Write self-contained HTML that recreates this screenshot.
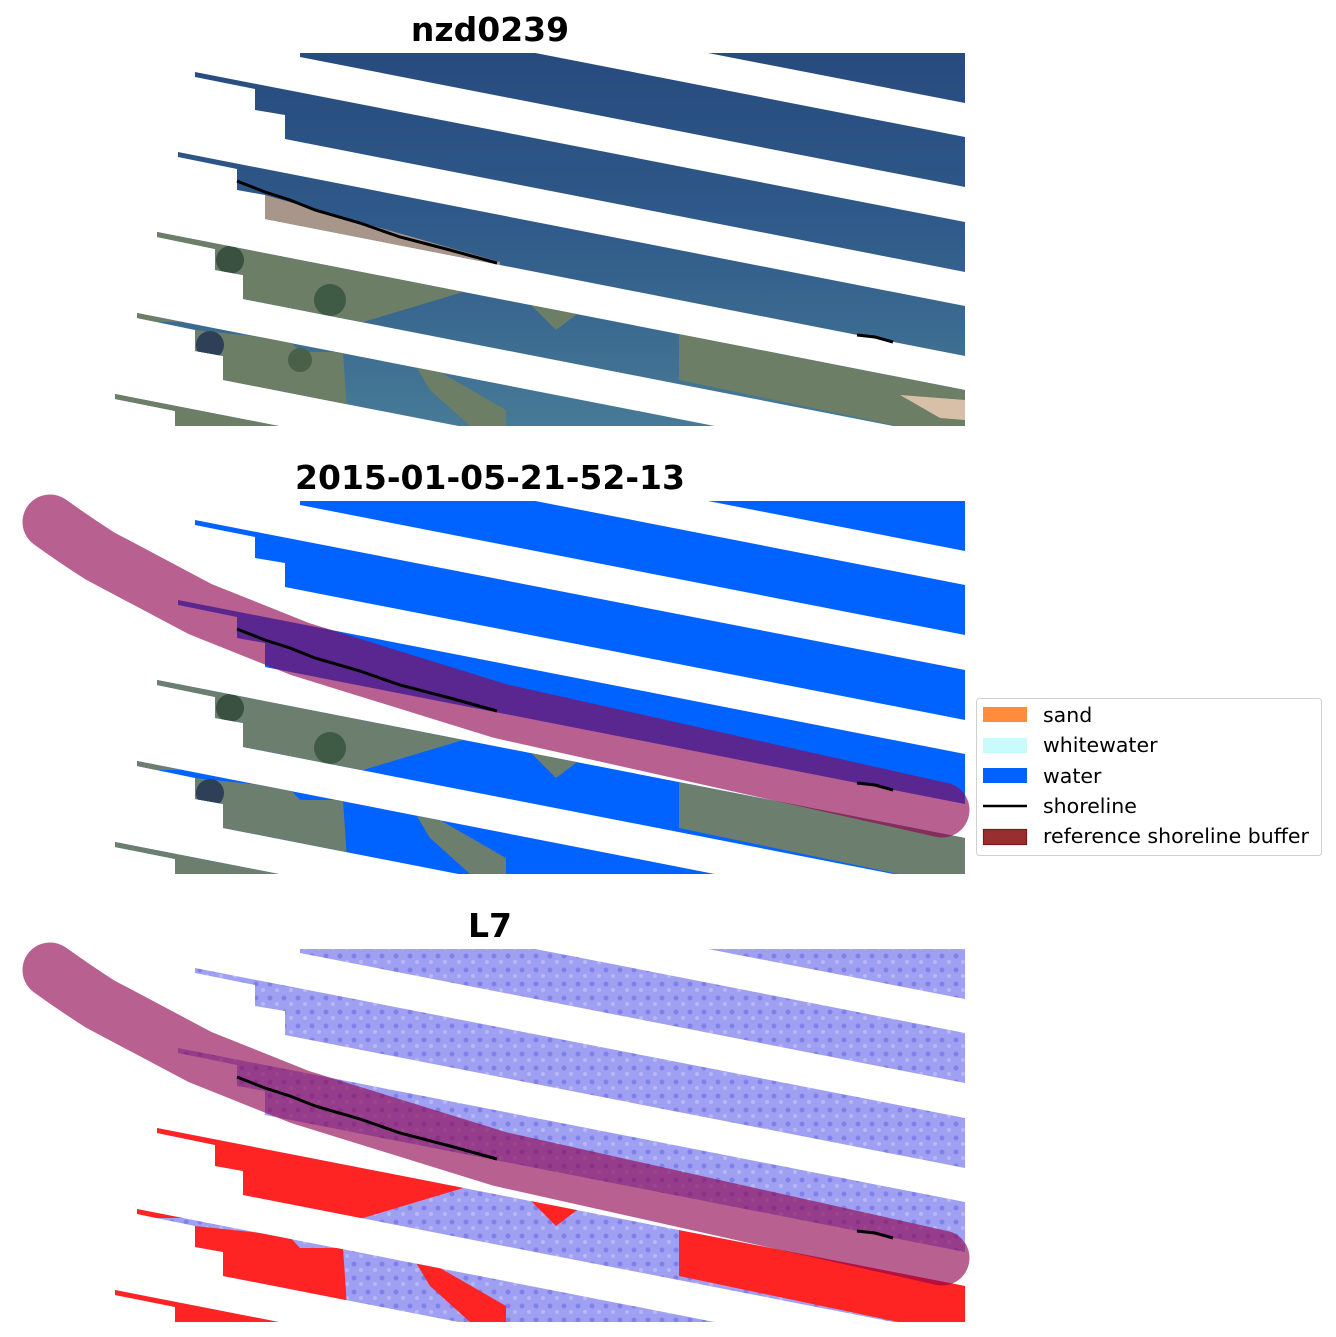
<!DOCTYPE html>
<html><head><meta charset="utf-8"><style>
html,body{margin:0;padding:0;background:#fff;}
svg{display:block;}
text{font-family:"DejaVu Sans","Liberation Sans",sans-serif;}
</style></head><body>
<svg width="1336" height="1337" viewBox="0 0 1336 1337" xmlns="http://www.w3.org/2000/svg">
<defs>
  <clipPath id="bands">
    <polygon points="600,-18 965,53 965,103 600,32"/>
    <polygon points="300,7 965,137 965,187 300,57"/>
    <polygon points="195,72 965,222 965,272 285,139 285,115 255,110 255,89 195,77"/>
    <polygon points="178,152 965,306 965,356 265,219 265,195 237,190 237,169 178,157"/>
    <polygon points="157,232 965,390 965,440 243,299 243,275 215,270 215,249 157,237"/>
    <polygon points="137,313 965,475 965,525 223,380 223,356 195,351 195,330 137,318"/>
    <polygon points="115,394 965,560 965,610 203,461 203,437 175,432 175,411 115,399"/>
  </clipPath>
  <clipPath id="panel"><rect x="100" y="53" width="865" height="373"/></clipPath>
  <linearGradient id="sea" x1="0" y1="0" x2="0" y2="1">
    <stop offset="0" stop-color="#25467a"/>
    <stop offset="0.5" stop-color="#2f5a8a"/>
    <stop offset="1" stop-color="#4a7e98"/>
  </linearGradient>
  <pattern id="tex" width="14" height="14" patternUnits="userSpaceOnUse">
    <rect width="14" height="14" fill="#a0a0f2"/>
    <circle cx="4" cy="4" r="2.5" fill="#8080ea"/>
    <circle cx="11" cy="10" r="2" fill="#b8b8f8"/>
  </pattern>
  <g id="landshapes">
    <polygon points="100,200 430,262 476,275 470,290 363,322 100,322"/>
    <polygon points="100,320 289,340 300,352 343,352 348,426 100,426"/>
    <polygon points="412,360 440,372 506,410 506,426 470,426 430,390"/>
    <polygon points="526,300 580,312 556,330"/>
    <polygon points="679,330 965,374 965,440 679,380"/>
  </g>
  <g id="shore" fill="none" stroke="#000" stroke-width="3">
    <polyline points="237,181 265,192 290,200 315,210 360,223 400,237 450,250 497,263"/>
    <polyline points="857,335 875,337 893,342"/>
  </g>
  <path id="buf" d="M50,74 Q75,92 100,108 L200,161 L300,201 L500,263 L942,362" fill="none" stroke="rgb(143,3,78)" stroke-opacity="0.63" stroke-width="55" stroke-linecap="round" stroke-linejoin="round"/>
</defs>

<!-- Panel 1 -->
<text x="490" y="41" font-size="33" font-weight="bold" text-anchor="middle">nzd0239</text>
<g clip-path="url(#panel)">
  <g clip-path="url(#bands)">
    <rect x="100" y="0" width="900" height="450" fill="url(#sea)"/>
    <polygon points="265,195 500,262 500,275 265,225" fill="#a8968a"/>
    <use href="#landshapes" fill="#6c7e66"/>
    <circle cx="230" cy="260" r="14" fill="#3a5040"/>
    <circle cx="330" cy="300" r="16" fill="#3f5a45"/>
    <circle cx="210" cy="345" r="14" fill="#2e4058"/>
    <circle cx="300" cy="360" r="12" fill="#4a6048"/>
    <polygon points="900,395 965,400 965,420 940,418" fill="#d8c0a8"/>
  </g>
</g>
<use href="#shore"/>

<!-- Panel 2 -->
<text x="490" y="489" font-size="33" font-weight="bold" text-anchor="middle">2015-01-05-21-52-13</text>
<g transform="translate(0,448)">
  <g clip-path="url(#panel)">
    <g clip-path="url(#bands)">
      <rect x="100" y="0" width="900" height="450" fill="#0062ff"/>
      <use href="#landshapes" fill="#6c7e6e"/>
      <circle cx="230" cy="260" r="14" fill="#3a5040"/>
      <circle cx="330" cy="300" r="16" fill="#3f5a45"/>
      <circle cx="210" cy="345" r="14" fill="#2e4058"/>
    </g>
  </g>
  <use href="#buf"/>
  <use href="#shore"/>
</g>

<!-- Panel 3 -->
<text x="490" y="937" font-size="33" font-weight="bold" text-anchor="middle">L7</text>
<g transform="translate(0,896)">
  <g clip-path="url(#panel)">
    <g clip-path="url(#bands)">
      <rect x="100" y="0" width="900" height="450" fill="url(#tex)"/>
      <use href="#landshapes" fill="#ff2424"/>
    </g>
  </g>
  <use href="#buf"/>
  <use href="#shore"/>
</g>

<!-- Legend -->
<rect x="976.5" y="698.5" width="345" height="157" rx="3" fill="#fff" stroke="#d0d0d0" stroke-width="1"/>
<rect x="983" y="707" width="44" height="15" fill="#ff8c3c"/>
<rect x="983" y="738" width="44" height="15" fill="#c8fcfc"/>
<rect x="983" y="768" width="44" height="15" fill="#0062ff"/>
<line x1="983" y1="806" x2="1027" y2="806" stroke="#000" stroke-width="2.5"/>
<rect x="983.5" y="829.5" width="43" height="15" fill="#992e2e" stroke="#7a1a1a" stroke-width="1.2"/>
<g font-size="20.5" fill="#000">
  <text x="1043" y="722">sand</text>
  <text x="1043" y="752">whitewater</text>
  <text x="1043" y="783">water</text>
  <text x="1043" y="813">shoreline</text>
  <text x="1043" y="843">reference shoreline buffer</text>
</g>
</svg>
</body></html>
